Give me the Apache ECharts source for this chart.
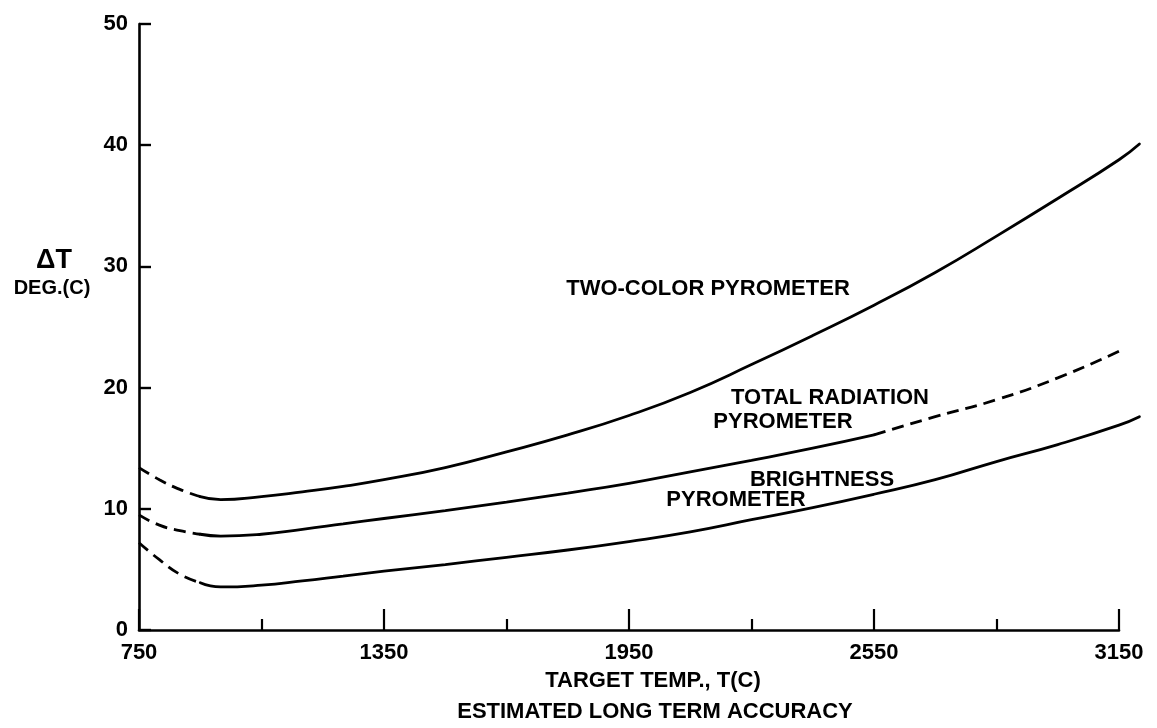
<!DOCTYPE html>
<html>
<head>
<meta charset="utf-8">
<script src="https://cdn.jsdelivr.net/npm/echarts@6/dist/echarts.min.js"></script>
<style>
  html, body { margin: 0; padding: 0; background: #fff; }
  #chart { width: 1157px; height: 728px; }
</style>
</head>
<body>
<div id="chart"></div>
<script>
// ---- data ----
const temps = [750, 800, 850, 900, 950, 1050, 1150, 1250, 1350, 1500, 1650, 1800, 1950, 2100, 2250, 2400, 2550, 2700, 2850, 3000, 3150, 3200];
const twoColor = [13.4, 12.4, 11.6, 11.0, 10.75, 11.0, 11.4, 11.85, 12.4, 13.4, 14.7, 16.1, 17.7, 19.6, 21.9, 24.3, 26.8, 29.5, 32.5, 35.6, 38.8, 40.1];
const totalRadiation = [9.5, 8.65, 8.2, 7.9, 7.75, 7.9, 8.3, 8.75, 9.2, 9.85, 10.55, 11.3, 12.1, 13.05, 14.0, 15.0, 16.1, 17.6, 19.0, 20.8, 23.0];
const brightness = [7.2, 5.8, 4.6, 3.9, 3.55, 3.7, 4.05, 4.45, 4.85, 5.4, 6.0, 6.6, 7.3, 8.1, 9.1, 10.1, 11.2, 12.4, 13.9, 15.3, 16.9, 17.6];
const xTickLabels = ['750', '1350', '1950', '2550', '3150'];
const yTickLabels = ['0', '10', '20', '30', '40', '50'];
const curveLabels = {
  twoColor: 'TWO-COLOR PYROMETER',
  totalA: 'TOTAL RADIATION',
  totalB: 'PYROMETER',
  brightA: 'BRIGHTNESS',
  brightB: 'PYROMETER'
};
const xTitle = 'TARGET TEMP., T(C)';
const subTitle = 'ESTIMATED LONG TERM ACCURACY';
const yTitleA = 'ΔT';
const yTitleB = 'DEG.(C)';
// index where the left dashed extrapolation meets the solid line
const leftDashEnd = 3;      // 900
const totalSolidEnd = 16;   // 2550

const X_MIN = 750, X_AXIS_MAX = 3150, X_DATA_MAX = 3200;

function pairs(vals, from, to) {
  const out = [];
  for (let i = from; i <= to && i < vals.length; i++) out.push([temps[i], vals[i]]);
  return out;
}

const FONT = '"Liberation Sans", Arial, sans-serif';
const solid = { color: '#000', width: 2.8, type: 'solid', cap: 'round' };
const dashed = { color: '#000', width: 2.8, type: [12, 7] };

function seg(vals, from, to, style) {
  return {
    type: 'line',
    xAxisIndex: 1, yAxisIndex: 1,
    data: pairs(vals, from, to),
    smooth: 0.5,
    showSymbol: false,
    symbol: 'none',
    clip: false,
    silent: true,
    lineStyle: style
  };
}

// layout: visible axes grid and a wider data grid that shares the same scale
const gLeft = 139, gRight = 38, gTop = 24, gBottom = 98;
const W = 1157;
const pxPerUnit = (W - gLeft - gRight) / (X_AXIS_MAX - X_MIN);
const dataRight = W - gLeft - pxPerUnit * (X_DATA_MAX - X_MIN);

const chart = echarts.init(document.getElementById('chart'), null, { renderer: 'canvas' });

function txt(text, x, y, size) {
  return {
    type: 'text',
    x: x, y: y,
    silent: true,
    style: {
      text: text,
      fill: '#000',
      font: 'bold ' + size + 'px ' + FONT,
      align: 'center', verticalAlign: 'middle',
      textAlign: 'center', textVerticalAlign: 'middle'
    }
  };
}

chart.setOption({
  backgroundColor: '#fff',
  animation: false,
  grid: [
    { left: gLeft, right: gRight, top: gTop, bottom: gBottom, containLabel: false },
    { left: gLeft, right: dataRight, top: gTop, bottom: gBottom, containLabel: false }
  ],
  xAxis: [{
    gridIndex: 0,
    type: 'value',
    min: X_MIN, max: X_AXIS_MAX, interval: 600,
    axisLine: { show: true, lineStyle: { color: '#000', width: 2.6 } },
    axisTick: { show: true, inside: true, length: 21, lineStyle: { color: '#000', width: 2.2 } },
    minorTick: { show: true, splitNumber: 2, length: 11, lineStyle: { color: '#000', width: 2.2 } },
    splitLine: { show: false },
    minorSplitLine: { show: false },
    axisLabel: {
      margin: 12,
      color: '#000',
      fontFamily: FONT, fontWeight: 'bold', fontSize: 22,
      formatter: function (v) {
        const s = String(v);
        return xTickLabels.indexOf(s) >= 0 ? s : '';
      }
    }
  }, {
    gridIndex: 1,
    type: 'value',
    min: X_MIN, max: X_DATA_MAX,
    show: false
  }],
  yAxis: [{
    gridIndex: 0,
    type: 'value',
    min: 0, max: 50, interval: 10,
    axisLine: { show: true, lineStyle: { color: '#000', width: 2.6 } },
    axisTick: { show: true, inside: true, length: 12, lineStyle: { color: '#000', width: 2.4 } },
    splitLine: { show: false },
    axisLabel: {
      margin: 11,
      color: '#000',
      fontFamily: FONT, fontWeight: 'bold', fontSize: 22,
      verticalAlign: 'middle',
      padding: [0, 0, 10, 0],
      formatter: function (v) {
        const s = String(v);
        return yTickLabels.indexOf(s) >= 0 ? s : '';
      }
    }
  }, {
    gridIndex: 1,
    type: 'value',
    min: 0, max: 50,
    show: false
  }],
  series: [
    seg(twoColor, 0, leftDashEnd, dashed),
    seg(twoColor, leftDashEnd, twoColor.length - 1, solid),
    seg(totalRadiation, 0, leftDashEnd, dashed),
    seg(totalRadiation, leftDashEnd, totalSolidEnd, solid),
    seg(totalRadiation, totalSolidEnd, totalRadiation.length - 1, dashed),
    seg(brightness, 0, leftDashEnd, dashed),
    seg(brightness, leftDashEnd, brightness.length - 1, solid)
  ],
  graphic: [
    txt(curveLabels.twoColor, 708, 289, 22),
    txt(curveLabels.totalA, 830, 398, 22),
    txt(curveLabels.totalB, 783, 422, 22),
    txt(curveLabels.brightA, 822, 480, 22),
    txt(curveLabels.brightB, 736, 500, 22),
    txt(xTitle, 653, 681, 22),
    txt(subTitle, 655, 712, 22),
    txt(yTitleA, 54, 261, 27),
    txt(yTitleB, 52, 288, 20)
  ]
});
</script>
</body>
</html>
